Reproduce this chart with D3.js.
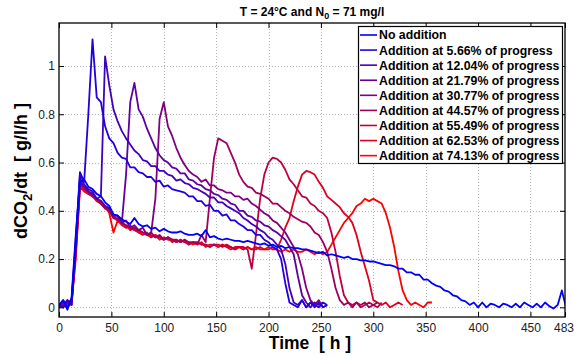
<!DOCTYPE html>
<html>
<head>
<meta charset="utf-8">
<script src="https://cdn.jsdelivr.net/npm/d3@7"></script>
<style>
  body { margin: 0; background: #fff; }
  svg { font-family: "Liberation Sans", Arial, Helvetica, sans-serif; }
</style>
</head>
<body>
<div id="container"></div>
<script>
/* DATA (one value every 4 h) */
const STEP = 4;

const seriesNames = [
  "No addition",
  "Addition at 5.66% of progress",
  "Addition at 12.04% of progress",
  "Addition at 21.79% of progress",
  "Addition at 30.77% of progress",
  "Addition at 44.57% of progress",
  "Addition at 55.49% of progress",
  "Addition at 62.53% of progress",
  "Addition at 74.13% of progress"
];

const noAddition = [
  0.01,0.03,-0.01,0.04,0.30,0.52,0.53,0.50,0.49,0.47,
  0.46,0.435,0.42,0.385,0.38,0.365,0.355,0.345,0.37,0.345,
  0.335,0.34,0.325,0.33,0.315,0.325,0.315,0.31,0.31,0.315,
  0.305,0.30,0.30,0.305,0.295,0.32,0.29,0.295,0.285,0.28,
  0.285,0.28,0.275,0.275,0.27,0.275,0.27,0.265,0.26,0.265,
  0.255,0.26,0.25,0.255,0.245,0.25,0.245,0.245,0.24,0.24,
  0.235,0.23,0.225,0.23,0.215,0.22,0.215,0.21,0.205,0.21,
  0.20,0.20,0.195,0.195,0.19,0.19,0.185,0.18,0.175,0.175,
  0.17,0.16,0.16,0.145,0.145,0.135,0.135,0.115,0.115,0.10,
  0.09,0.085,0.07,0.065,0.05,0.045,0.03,0.025,0.01,0.02,
  0.00,0.02,0.00,0.015,0.01,0.00,0.015,0.01,0.00,0.015,
  0.00,0.02,0.01,0.00,0.015,0.00,0.02,0.005,-0.005,0.01,
  0.07,0.00
];

const add566 = [
  0.00,0.03,0.00,0.03,0.28,0.56,0.52,0.80,1.11,0.87,
  0.85,0.75,0.70,0.68,0.64,0.62,0.615,0.58,0.58,0.56,
  0.555,0.54,0.54,0.52,0.525,0.50,0.505,0.49,0.485,0.48,
  0.475,0.46,0.46,0.44,0.44,0.42,0.425,0.40,0.40,0.38,
  0.385,0.36,0.36,0.345,0.335,0.32,0.32,0.30,0.30,0.28,
  0.27,0.25,0.24,0.20,0.10,0.02,0.01,0.00,0.03,0.00,
  0.02,0.01,0.00,0.02,0.01
];

const add1204 = [
  0.01,0.00,0.03,0.01,0.26,0.55,0.51,0.49,0.48,0.45,
  0.46,1.04,0.92,0.82,0.77,0.73,0.70,0.675,0.65,0.635,
  0.61,0.605,0.585,0.585,0.565,0.565,0.55,0.545,0.525,0.53,
  0.515,0.51,0.495,0.49,0.48,0.47,0.455,0.455,0.435,0.435,
  0.42,0.41,0.40,0.39,0.37,0.36,0.345,0.335,0.32,0.31,
  0.29,0.28,0.26,0.24,0.18,0.08,0.02,0.01,0.03,0.00,
  0.02,0.00,0.02,0.00,0.01
];

const add2179 = [
  0.01,0.00,0.02,0.03,0.25,0.53,0.50,0.48,0.47,0.45,
  0.44,0.42,0.41,0.38,0.38,0.35,0.55,0.85,0.93,0.82,
  0.79,0.74,0.70,0.66,0.63,0.61,0.60,0.58,0.575,0.555,
  0.555,0.53,0.525,0.51,0.505,0.49,0.485,0.47,0.465,0.45,
  0.445,0.43,0.425,0.40,0.40,0.38,0.375,0.36,0.355,0.34,
  0.335,0.32,0.31,0.295,0.28,0.25,0.22,0.13,0.05,0.02,
  0.00,0.02,0.01,0.02
];

const add3077 = [
  0.00,0.01,0.03,0.01,0.25,0.52,0.50,0.48,0.47,0.45,
  0.44,0.42,0.41,0.38,0.38,0.35,0.36,0.33,0.34,0.32,
  0.33,0.30,0.31,0.45,0.78,0.85,0.75,0.71,0.66,0.62,
  0.59,0.565,0.55,0.54,0.52,0.53,0.505,0.505,0.49,0.485,
  0.475,0.475,0.46,0.46,0.445,0.45,0.43,0.42,0.405,0.39,
  0.38,0.36,0.35,0.33,0.31,0.28,0.25,0.22,0.16,0.08,
  0.03,0.01,0.03,0.00,0.01
];

const add4457 = [
  0.01,0.00,0.02,0.02,0.23,0.51,0.50,0.48,0.46,0.45,
  0.43,0.41,0.40,0.37,0.37,0.35,0.34,0.33,0.33,0.32,
  0.31,0.30,0.31,0.29,0.30,0.28,0.29,0.28,0.28,0.27,
  0.28,0.27,0.27,0.26,0.30,0.27,0.45,0.62,0.70,0.69,
  0.68,0.64,0.60,0.55,0.52,0.50,0.495,0.475,0.47,0.46,
  0.45,0.43,0.43,0.415,0.40,0.39,0.375,0.365,0.355,0.35,
  0.335,0.31,0.30,0.27,0.23,0.16,0.08,0.03,0.01,0.02,
  0.00,0.02,0.01,0.02,0.00,0.01,0.02
];

const add5549 = [
  0.00,0.02,0.01,0.02,0.24,0.51,0.49,0.48,0.46,0.45,
  0.43,0.42,0.40,0.38,0.36,0.35,0.33,0.34,0.32,0.32,
  0.31,0.30,0.30,0.29,0.29,0.28,0.29,0.28,0.27,0.28,
  0.27,0.26,0.27,0.27,0.26,0.26,0.25,0.26,0.26,0.25,
  0.26,0.25,0.24,0.25,0.25,0.24,0.16,0.30,0.45,0.55,
  0.60,0.62,0.615,0.60,0.57,0.53,0.51,0.485,0.46,0.455,
  0.43,0.42,0.40,0.39,0.37,0.31,0.23,0.13,0.05,0.02,
  0.01,0.02,0.00,0.01,0.02,0.01,0.00,0.02
];

const add6253 = [
  0.01,0.00,0.02,0.01,0.22,0.50,0.48,0.47,0.46,0.44,
  0.43,0.41,0.40,0.37,0.36,0.35,0.34,0.32,0.33,0.31,
  0.30,0.31,0.29,0.30,0.29,0.28,0.29,0.27,0.28,0.27,
  0.28,0.26,0.27,0.26,0.27,0.25,0.26,0.26,0.25,0.26,
  0.25,0.24,0.25,0.25,0.24,0.25,0.24,0.24,0.25,0.24,
  0.24,0.25,0.24,0.28,0.33,0.37,0.44,0.50,0.55,0.565,
  0.56,0.55,0.52,0.495,0.46,0.445,0.43,0.415,0.39,0.375,
  0.35,0.30,0.23,0.17,0.11,0.03,0.02,0.01,0.02,0.00,
  0.01,0.02,0.01
];

const add7413 = [
  0.00,0.01,0.00,0.02,0.20,0.49,0.49,0.47,0.46,0.45,
  0.44,0.42,0.39,0.31,0.36,0.34,0.33,0.33,0.32,0.31,
  0.31,0.30,0.29,0.30,0.28,0.29,0.28,0.28,0.27,0.28,
  0.27,0.27,0.26,0.27,0.26,0.26,0.25,0.26,0.25,0.26,
  0.25,0.25,0.24,0.25,0.24,0.25,0.24,0.25,0.24,0.24,
  0.25,0.24,0.24,0.23,0.24,0.23,0.24,0.23,0.23,0.24,
  0.23,0.22,0.23,0.22,0.23,0.26,0.29,0.32,0.35,0.37,
  0.39,0.42,0.43,0.45,0.44,0.45,0.44,0.43,0.39,0.33,
  0.25,0.15,0.07,0.03,0.01,0.02,0.01,0.00,0.02,0.02
];

const seriesValues = [noAddition, add566, add1204, add2179, add3077, add4457, add5549, add6253, add7413];

const xTicks = [0, 50, 100, 150, 200, 250, 300, 350, 400, 450, 483];
const yTicks = [0, 0.2, 0.4, 0.6, 0.8, 1];

/* CONSTANTS */
const width = 574, height = 356,
  margin = { top: 23, right: 9, bottom: 39, left: 59 };

// blue -> red ramp, one step per series
const colors = seriesNames.map((d, i) => d3.rgb(Math.round(255 * i / 8), 0, Math.round(255 * (1 - i / 8))).toString());

/* SCALES */
const xScale = d3.scaleLinear()
  .domain([0, 483])
  .range([margin.left, width - margin.right]);

const yScale = d3.scaleLinear()
  .domain([-0.04, 1.178])
  .range([height - margin.bottom, margin.top]);

const svg = d3.select("#container")
  .append("svg")
  .attr("width", width)
  .attr("height", height);

svg.append("defs").append("clipPath").attr("id", "plot")
  .append("rect")
  .attr("x", margin.left).attr("y", margin.top)
  .attr("width", width - margin.left - margin.right)
  .attr("height", height - margin.top - margin.bottom);

/* GRID */
const grid = svg.append("g")
  .attr("stroke", "#b4b4b4")
  .attr("stroke-width", 1)
  .attr("stroke-dasharray", "1,2");

grid.selectAll(".vx")
  .data(xTicks.filter(d => d > 0 && d < 483))
  .join("line")
  .attr("x1", d => Math.round(xScale(d)) + 0.5).attr("x2", d => Math.round(xScale(d)) + 0.5)
  .attr("y1", margin.top).attr("y2", height - margin.bottom);

grid.selectAll(".hy")
  .data(yTicks)
  .join("line")
  .attr("y1", d => Math.round(yScale(d)) + 0.5).attr("y2", d => Math.round(yScale(d)) + 0.5)
  .attr("x1", margin.left).attr("x2", width - margin.right);

/* LINES */
const line = d3.line()
  .x((d, i) => xScale(i * STEP))
  .y(d => yScale(d));

// red ones first so the blue one sits on top
svg.append("g")
  .attr("clip-path", "url(#plot)")
  .selectAll("path")
  .data(seriesValues.map((v, i) => ({ v, i })).reverse())
  .join("path")
  .attr("fill", "none")
  .attr("stroke", d => colors[d.i])
  .attr("stroke-width", 1.8)
  .attr("stroke-linejoin", "round")
  .attr("d", d => line(d.v));

/* AXES */
const xAxis = d3.axisBottom(xScale).tickValues(xTicks).tickFormat(d3.format("d")).tickSize(-5).tickPadding(6);
const yAxis = d3.axisLeft(yScale).tickValues(yTicks).tickFormat(d => d).tickSize(-5).tickPadding(4);

const gx = svg.append("g")
  .attr("transform", `translate(0,${height - margin.bottom})`)
  .call(xAxis);
svg.append("g")
  .attr("transform", `translate(${margin.left},0)`)
  .call(yAxis);
svg.append("g")
  .attr("transform", `translate(0,${margin.top})`)
  .call(d3.axisTop(xScale).tickValues(xTicks).tickFormat("").tickSize(-5));
svg.append("g")
  .attr("transform", `translate(${width - margin.right},0)`)
  .call(d3.axisRight(yScale).tickValues(yTicks).tickFormat("").tickSize(-5));

svg.selectAll(".domain").remove();
svg.selectAll(".tick line").attr("stroke", "#000");
svg.selectAll(".tick text")
  .attr("font-size", 12)
  .attr("font-family", "Liberation Sans, Arial, sans-serif")
  .attr("fill", "#222");
// last label sits against the page edge
gx.selectAll(".tick text").filter(d => d === 483).attr("dx", -1.5);

svg.append("rect")
  .attr("x", margin.left).attr("y", margin.top)
  .attr("width", width - margin.left - margin.right)
  .attr("height", height - margin.top - margin.bottom)
  .attr("fill", "none")
  .attr("stroke", "#000")
  .attr("stroke-width", 1.3);

/* TITLES */
const title = svg.append("text")
  .attr("x", 312).attr("y", 16)
  .attr("text-anchor", "middle")
  .attr("font-size", 12)
  .attr("font-weight", "bold");
title.append("tspan").text("T = 24°C and N");
title.append("tspan").attr("font-size", 9).attr("dy", 3).text("0");
title.append("tspan").attr("dy", -3).text(" = 71 mg/l");

svg.append("text")
  .attr("x", 310).attr("y", 349)
  .attr("text-anchor", "middle")
  .attr("font-size", 17.5)
  .attr("font-weight", "bold")
  .style("white-space", "pre")
  .text("Time  [ h ]");

const ylab = svg.append("text")
  .attr("transform", "translate(27,171) rotate(-90)")
  .attr("text-anchor", "middle")
  .attr("font-size", 18)
  .attr("font-weight", "bold")
  .style("white-space", "pre");
ylab.append("tspan").text("dCO");
ylab.append("tspan").attr("font-size", 13).attr("dy", 5).text("2");
ylab.append("tspan").attr("dy", -5).text("/dt  [ g/l/h ]");

/* LEGEND */
const legend = svg.append("g");
legend.append("rect")
  .attr("x", 358.5).attr("y", 26.5)
  .attr("width", 204).attr("height", 137)
  .attr("fill", "#fff")
  .attr("stroke", "#000")
  .attr("stroke-width", 1.2);

const rows = legend.selectAll(".row")
  .data(seriesNames)
  .join("g")
  .attr("transform", (d, i) => `translate(0,${35 + i * 15.08})`);
rows.append("line")
  .attr("x1", 360).attr("x2", 377)
  .attr("stroke", (d, i) => colors[i])
  .attr("stroke-width", 1.6);
rows.append("text")
  .attr("x", 379).attr("dy", "0.36em")
  .attr("font-size", 12.3)
  .attr("font-weight", "bold")
  .text(d => d);
</script>
</body>
</html>
